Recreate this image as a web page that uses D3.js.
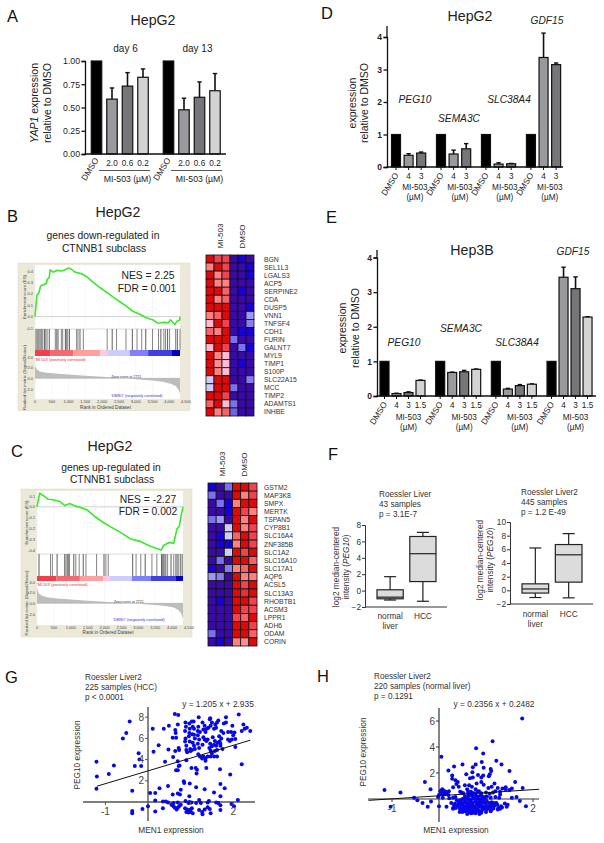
<!DOCTYPE html>
<html><head><meta charset="utf-8">
<script src="https://cdn.jsdelivr.net/npm/d3@7"></script>
<style>html,body{margin:0;padding:0;background:#fff}svg{display:block}text{font-family:"Liberation Sans",Arial,sans-serif;fill:#222}</style>
</head><body><svg id="c" width="604" height="843"></svg>
<script>
// ---------- data ----------
const barAGroups=["day 6","day 13"], barADose=["DMSO","2.0","0.6","0.2"];
const barAVals=[[1,.59,.73,.825],[1,.475,.61,.68]];
const barAErr=[[1,.71,.875,.915],[1,.6,.775,.865]];
const barYTicksA=[0,.25,.5,.75,1];
const genesD=["PEG10","SEMA3C","SLC38A4","GDF15"], doseD=["DMSO","4","3"];
const barDVals=[[1,.36,.43],[1,.4,.56],[1,.09,.1],[1,3.37,3.15]];
const barDErr=[[1,.41,.46],[1,.52,.72],[1,.13,.11],[1,4.12,3.2]];
const genesE=["PEG10","SEMA3C","SLC38A4","GDF15"], doseE=["DMSO","4","3","1.5"];
const barEVals=[[1,.07,.1,.45],[1,.68,.7,.77],[1,.2,.3,.34],[1,3.43,3.1,2.28]];
const barEErr=[[1,.08,.12,.46],[1,.69,.74,.78],[1,.22,.33,.35],[1,3.72,3.44,2.29]];

const esBRank=[0,30,60,110,170,250,330,370,420,455,545,645,795,895,990,1060,1190,1390,1540,1735,1935,2130,2330,2530,2730,2925,3125,3320,3520,3670,3820,3970,4040,4165,4235,4310,4320];
const esBVal=[0,.1,.19,.205,.27,.28,.29,.33,.34,.41,.39,.405,.4,.41,.425,.42,.39,.375,.35,.3,.255,.215,.17,.13,.09,.045,.02,-.01,-.03,-.06,-.05,-.055,-.03,-.07,-.04,-.03,0];
const hitsB=[30,70,110,150,190,230,280,320,360,425,605,645,685,785,825,905,935,975,1025,1240,1280,1340,1440,2150,2300,2430,2710,2900,3040,3180,3300,3500,3680,3750,3840,3890,3950,4010,4190,4240,4320];
const metricRankB=[0,50,150,300,600,1000,1500,2000,2400,2721,3000,3500,3800,4050,4200,4280,4320];
const metricValB=[2.4,1.7,1.3,1.1,.9,.7,.5,.3,.15,0,-.15,-.4,-.65,-1,-1.5,-2.2,-2.9];
const bandEdgesB=[0,450,1140,1950,2150,2830,3370,4060,4320];
const esCRank=[0,30,80,180,330,475,675,825,970,1120,1320,1490,1715,1965,2210,2460,2760,3055,3355,3680,3750,3850,3950,4050,4145,4215,4275,4325];
const esCVal=[0,.05,.125,.105,.07,.065,.05,.012,.03,.01,-.01,-.03,-.09,-.145,-.19,-.235,-.295,-.32,-.365,-.4,-.36,-.34,-.33,-.34,-.205,-.18,-.075,0];
const hitsC=[60,400,455,595,815,855,895,935,965,1090,1150,1250,1370,1450,1765,1985,2040,2110,2835,2935,3075,3205,3405,3550,3690,3720,3750,3790,3820,3870,3970,4050,4110,4150,4200,4250,4300];
const metricRankC=[0,50,150,300,600,1000,1500,2000,2400,2721,3000,3500,3800,4050,4200,4280,4325];
const metricValC=[2.9,1.9,1.4,1.15,.9,.7,.5,.3,.15,0,-.1,-.3,-.5,-.8,-1.3,-2,-2.9];
const bandEdgesC=[0,575,1270,1965,2165,2810,3375,4100,4325];
const bandColors=["#f0404f","#f56a70","#ffa0a0","#ffc8e0","#ccccff","#7f7fff","#4040e0","#0000c0"];
const rankTicks=[0,500,1000,1500,2000,2500,3000,3500,4000,4500];

const heatCols=["MI-503","DMSO"];
const genesB=["BGN","SEL1L3","LGALS3","ACP5","SERPINE2","CDA","DUSP5","VNN1","TNFSF4","CDH1","FURIN","GALNT7","MYL9","TIMP1","S100P","SLC22A15","MCC","TIMP2","ADAMTS1","INHBE"];
const heatB=[[1,.7,.7,-.9,-1,-.9],[.5,1,.7,-.9,-.9,-1],[1,.5,.7,-.9,-.9,-1],[1,.5,.5,-.9,-.9,-.9],[1,1,.6,-.9,-1,-.9],[1,.5,.6,-.9,-.9,-.9],[1,1,1,-.9,-.9,-1],[.5,.6,1,-.9,-.9,-.4],[.25,1,.7,-.9,-.9,-.5],[.6,.5,1,-.9,-1,-1],[1,1,1,-.55,-.9,-.9],[.25,1,.7,-.9,-.55,-1],[1,.5,.25,-.9,-.9,-.9],[1,.45,.25,-.9,-1,-.9],[1,.5,.25,-.9,-.9,-.9],[-.2,1,1,-.9,-.9,-.5],[-.2,1,1,-.55,-.9,-.9],[1,1,.7,-.9,-.9,-.9],[.6,1,.25,-.55,-.9,-.9],[1,.5,.6,-.6,-.9,-.9]];
const genesC=["GSTM2","MAP3K8","SMPX","MERTK","TSPAN5","CYP8B1","SLC16A4","ZNF385B","SLC1A2","SLC16A10","SLC17A1","AQP6","ACSL5","SLC13A3","RHOBTB1","ACSM3","LPPR1","ADH6","ODAM","CORIN"];
const heatC=[[-1,-.9,-.55,1,1,.7],[-.55,-.9,-.9,1,.5,.7],[-.9,-.55,-1,.5,1,1],[-.9,-.9,-1,1,.7,.5],[-.55,-.4,-.9,1,.5,1],[-.9,-.9,-.2,1,.5,.7],[-.9,-1,-.2,.6,1,.7],[-.9,-1,-1,.5,1,.7],[-.9,-.9,-.2,1,.7,1],[-.9,-.55,-.9,1,1,.6],[-1,-.9,-.5,.5,.6,1],[-.4,-.5,-.9,1,.5,.5],[-.9,-.9,-.9,1,.7,1],[-.9,-.9,-.9,1,.8,1],[-.9,-1,-.9,1,1,.7],[-.9,-.9,-.9,1,.7,.7],[-.9,-.9,-.9,.7,.6,1],[-.9,-.9,-.9,1,1,.7],[-.55,-.9,-.9,1,1,.6],[-.9,-1,-.9,.5,.45,1]];

const boxCats=["normal","HCC"];
const boxF1=[{lo:-1.15,q1:-1,med:-.8,q3:.1,hi:1.7},{lo:-1.3,q1:1.1,med:4.5,q3:6.6,hi:7.1}];
const boxF2=[{lo:-1.05,q1:-.4,med:.2,q3:.95,hi:6.2},{lo:-1.1,q1:1.2,med:5.2,q3:6.7,hi:8.3}];

const scatterGX=[-1.21,-1.2,-1.21,-.92,-.8,-.59,-.51,-.43,-.22,-.31,-.16,-.2,-.37,-.37,-.37,-.13,0,.63,.71,1.19,1.46,1.83,2.13,.11,.37,.49,.7,.64,.65,.58,.66,.25,.13,.48,.64,.72,.73,.4,.59,.7,.72,.74,.66,.7,.88,.89,.87,.88,.87,.9,.9,.92,.97,.98,.97,.96,.98,.99,1,.9,1.03,1.07,1.05,1.08,1.04,1.08,1.1,1.05,1.08,1.1,1.03,1.18,1.17,1.22,1.17,1.2,1.17,1.2,1.18,1.22,1.27,1.28,1.33,1.38,1.42,1.3,1.35,1.3,1.33,1.4,1.37,1.28,1.44,1.45,1.5,1.47,1.52,1.46,1.5,1.4,1.35,1.47,1.3,1.47,1.35,1.58,1.62,1.65,1.6,1.55,1.57,1.63,1.6,1.55,1.5,1.57,1.62,1.62,1.55,1.72,1.77,1.72,1.67,1.68,1.7,1.75,1.7,1.78,1.83,1.88,1.95,1.98,1.88,1.92,1.97,2,2.05,2.05,2.03,2.24,2.27,2.32,2.4,2.2,2.2,1.02,1.12,1.14,1.15,1.37,1.69,1.93,.84,.85,.98,1.13,1.33,1.7,1.8,1.55,.77,.7,.75,.05,.17,.27,.47,.58,.97,1.7,.17,.35,.42,.47,.6,.7,.88,.95,.97,1.02,1.13,1.2,1.24,1.43,1.4,1.6,1.65,1.96,2.11,.55,.6,.63,.67,.7,.73,.77,.35,.17,.87,.92,.97,.95,1,1.03,1.05,.9,1,1.2,1.27,1.28,1.33,1.4,1.45,1.47,1.7,1.7,2.02];
const scatterGY=[3.8,2.4,1.25,2.65,3.45,6,6.5,7.6,4.6,3.4,3.4,4,1.05,-.85,-1.05,-.65,-.4,8.3,8.2,8,7.9,8,8.25,6.9,6.9,7.2,7.3,6.8,6.5,6.05,6.05,5.35,4.75,4.95,4.8,5.1,4.9,3.8,4.25,3.85,3.4,3.45,3,3,7.5,7.1,6.7,6,5.7,5.3,4.9,4.7,7.4,6.9,6.5,6.2,5.7,5,4.8,3.95,7.6,7.6,7.1,6.9,6.4,6.35,6,5.6,5.3,5,4.9,7.1,6.7,6.6,6.3,5.9,5.5,5.1,4.5,4.3,4.1,7.5,7.2,6.9,7,6.85,6.6,6.1,5.9,5.9,5.75,5.4,5.1,7.8,7.5,7.2,6.1,5.5,5.25,4.3,4.1,4.85,4.3,4.3,3.9,7.3,7.5,7.7,7,6.9,5.75,5.6,5.3,5.4,4.6,4.8,4.9,4.3,4.3,6.7,6.5,6,6.2,5.7,5.3,5,5.5,7.4,7.5,6.6,6.6,7.2,5.9,5.75,5.9,6.3,5.95,5.2,6.55,7.3,6.9,7,6.7,6.7,3.55,3.2,3.2,2.7,3.05,3.2,3.1,2.6,1.95,1.8,1.75,1.4,1.2,1.7,1.3,.9,1.15,.8,.7,.85,.85,1.3,1.5,.7,.55,.55,.15,.05,.05,-.05,-.1,-.05,.1,-.1,0,-.05,-.1,.2,-.1,.1,-.05,-.05,-.1,-.2,.2,-.25,-.4,-.55,-.7,-.55,-.4,-.25,-.6,-.9,-.6,-.7,-.85,-1,-.95,-.6,-1.05,-.95,-.7,-.75,-.95,-1.15,-.7,-.5,-.65,-1.05,-.75,-.3,-.4];
const fitG={slope:1.205,intercept:2.935,from:-1.2,to:2.4};

const scatterHX=[1.77,1.14,.79,.94,.05,.91,1.22,1.33,.5,.32,.78,.72,.95,.2,1.5,1.1,1.11,.71,.58,.28,.28,.83,.94,.9,.72,.66,1.08,1.06,-.3,.35,.4,.37,-1.16,-.82,-.18,-.53,-.46,-.35,-1.03,-.24,-.17,-.02,0,0,.16,.03,.07,.05,.12,.16,.21,.3,.42,.45,.55,.6,.7,.78,.85,.95,1.05,1.12,1.18,1.25,1.3,1.35,1.42,1.55,1.62,1.78,.08,.22,.3,.35,.48,.52,.62,.68,.75,.82,.9,1,1.08,1.15,1.2,1.3,.55,.62,.68,.72,.78,.82,.88,.92,.98,1.02,1.1,1.2,1.28,.38,.45,.5,.55,.6,.65,.7,.75,.8,.85,.9,.95,1,.42,.47,.52,.57,.62,.67,.72,.77,.82,.87,.92,.97,1.02,1.07,1.12,1.17,1.22,.32,.4,.48,.54,.6,.66,.7,.74,.8,.84,.88,.93,1,1.06,1.12,1.18,1.24,1.32,1.4,1.46,.3,.36,.44,.5,.56,.62,.64,.7,.76,.8,.86,.92,.98,1.04,1.1,1.16,1.26,1.34,1.44,.3,.45,.52,.58,.64,.7,.76,.82,.86,.92,1,1.1,1.15,1.25,1.3,.44,.55,.62,.68,.72,.78,.85,.9,1,1.1,.5,.7,.78,.86,.68,.6,.34,.26,.14,.1,.06,.12,.2,1.65,1.55,1.72,1.85,1.42,1.5,.62,.72,.64,.8,.9];
const scatterHY=[6.2,4.45,3.9,3.5,3.25,2.85,2.95,2.65,2.65,2.5,2.65,2.45,2.4,2.2,2.15,2.3,2.15,2.05,1.9,1.8,1.55,1.85,1.8,1.65,1.65,1.6,1.9,1.75,1.3,1.45,1.3,1.15,.7,.5,.75,.1,-.1,-.3,-.6,-.6,-.2,.15,.3,-.55,-.6,.6,.75,.65,.4,.5,.6,.9,.95,.55,1.05,.75,.95,.75,.6,1.1,.85,.95,1.2,.85,.55,.8,.75,.8,1.3,.85,.1,.05,.1,.15,.5,.45,.4,.55,.45,.55,.45,.5,.4,.5,.6,.35,.2,.2,.3,.25,.3,.2,.25,.2,.15,.2,.1,.15,.1,-.1,-.1,0,-.05,0,-.05,0,.05,-.05,0,-.05,0,-.1,-.3,-.25,-.3,-.25,-.3,-.2,-.3,-.2,-.3,-.2,-.3,-.25,-.2,-.3,-.25,-.3,-.3,-.5,-.5,-.45,-.55,-.45,-.5,-.4,-.55,-.45,-.5,-.4,-.55,-.45,-.55,-.45,-.5,-.45,-.55,-.35,-.45,-.7,-.7,-.65,-.7,-.65,-.75,-.6,-.7,-.65,-.75,-.6,-.7,-.65,-.75,-.6,-.7,-.7,-.65,-.6,-.75,-.8,-.85,-.8,-.9,-.85,-.9,-.8,-.95,-.85,-.8,-.85,-.75,-.8,-.75,-1,-.95,-1,-.95,-1.05,-1,-.95,-1.05,-1,-.95,-1,-1.05,-1.1,-1.15,-1.1,-1.15,-.35,-.3,.55,.65,.45,.4,.3,.15,.1,-.15,-.55,.9,.7,.55,.45,1.05,1.2,1.3,1.5,1.15];
const fitH={slope:.2356,intercept:.2482,from:-1.5,to:2.13};

// ---------- helpers ----------
const svg=d3.select("#c");
function T(x,y,s,o={}){const t=svg.append("text").attr("x",x).attr("y",y).attr("font-size",o.size||9).attr("text-anchor",o.anchor||"start").text(s);
 if(o.italic)t.attr("font-style","italic"); if(o.bold)t.attr("font-weight","bold"); if(o.fill)t.style("fill",o.fill);
 if(o.rot!=null)t.attr("transform",`rotate(${o.rot},${x},${y})`);return t;}
function styleAxis(g,w,col){g.selectAll("path,line").attr("stroke",col||"#111").attr("stroke-width",w||1.3);g.select(".domain").attr("fill","none");g.selectAll("text").style("font-family",'"Liberation Sans",Arial,sans-serif');}
const greys=["#000","#999a9e","#75757a","#d3d3d3"];

function bars(p){
 const n=p.vals[0].length;
 const x=d3.scaleLinear().domain([0,1]).range([p.x0,p.x0+p.step]);
 const y=d3.scaleLinear().domain([0,p.yMax]).range([p.y0,p.y1]);
 const slot=(g,j)=>g*(n+p.gap)+j;
 p.vals.forEach((vs,g)=>vs.forEach((v,j)=>{
  const cx=x(slot(g,j));
  if(p.errs[g][j]>v+.005){
   svg.append("line").attr("x1",cx).attr("x2",cx).attr("y1",y(v)).attr("y2",y(p.errs[g][j])).attr("stroke","#111").attr("stroke-width",1.6);
   svg.append("line").attr("x1",cx-2.2).attr("x2",cx+2.2).attr("y1",y(p.errs[g][j])).attr("y2",y(p.errs[g][j])).attr("stroke","#111").attr("stroke-width",1.4);
  }
  svg.append("rect").attr("x",cx-p.bw/2).attr("width",p.bw).attr("y",y(v)).attr("height",y(0)-y(v)).attr("fill",greys[j]).attr("stroke","#111").attr("stroke-width",1.2);
 }));
 const ya=svg.append("g").attr("transform",`translate(${p.axisX},0)`).call(d3.axisLeft(y).tickValues(p.yTicks).tickFormat(p.fmt).tickSize(3.5).tickPadding(1.5));
 styleAxis(ya); ya.selectAll("text").attr("font-size",p.tickSize).attr("font-weight",p.tickBold?"bold":"normal").style("fill","#222");
 if(p.axisTop!=null) svg.append("line").attr("x1",p.axisX).attr("x2",p.axisX).attr("y1",y(p.yTicks[p.yTicks.length-1])).attr("y2",p.axisTop).attr("stroke","#111").attr("stroke-width",1.3);
 svg.append("line").attr("x1",p.axisX-.5).attr("x2",p.axisEnd).attr("y1",p.y0).attr("y2",p.y0).attr("stroke","#111").attr("stroke-width",1.3);
 if(p.xTicks) p.vals.forEach((vs,g)=>vs.forEach((v,j)=>{svg.append("line").attr("x1",x(slot(g,j))).attr("x2",x(slot(g,j))).attr("y1",p.y0).attr("y2",p.y0+3).attr("stroke","#111").attr("stroke-width",1);}));
 p.vals.forEach((vs,g)=>{
  const cx0=x(slot(g,0));
  T(cx0+p.dmsoDx,p.y0+p.dmsoDy,p.dose[0],{size:8.4,anchor:"end",rot:-58});
  p.dose.slice(1).forEach((d,j)=>T(x(slot(g,j+1)),p.numY,d,{size:8.2,anchor:"middle"}));
  p.sub(g,x(slot(g,1)),x(slot(g,n-1)));
 });
 return {x,y,slot};
}

function gsea(p){
 svg.append("rect").attr("x",p.bx).attr("y",p.by).attr("width",p.bw).attr("height",p.bh).attr("fill","#ece9d8").attr("stroke","#dcd8c4").attr("stroke-width",.5);
 svg.append("rect").attr("x",p.x0).attr("y",p.top).attr("width",p.x1-p.x0).attr("height",p.bot-p.top).attr("fill","#fff");
 const x=d3.scaleLinear().domain([0,p.rankEnd]).range([p.x0,p.x1]);
 const yE=d3.scaleLinear().domain(p.esDomain).range(p.esRange);
 const yM=d3.scaleLinear().domain([4,-2]).range(p.mRange);
 p.rankTicks.filter(r=>r<=p.rankEnd).forEach(r=>{svg.append("line").attr("x1",x(r)).attr("x2",x(r)).attr("y1",p.top).attr("y2",p.hitTop).attr("stroke","#f0f0f0").attr("stroke-width",.5);
   svg.append("line").attr("x1",x(r)).attr("x2",x(r)).attr("y1",p.bandBot).attr("y2",p.bot).attr("stroke","#f0f0f0").attr("stroke-width",.5);});
 svg.append("line").attr("x1",p.x0).attr("x2",p.x1).attr("y1",yE(0)).attr("y2",yE(0)).attr("stroke","#bbb").attr("stroke-width",.7);
 svg.append("path").attr("d",d3.line().x(d=>x(d[0])).y(d=>yE(d[1]))(p.esRank.map((r,i)=>[r,p.esVal[i]]))).attr("fill","none").attr("stroke","#38ea2a").attr("stroke-width",1.6);
 svg.append("line").attr("x1",p.x0).attr("x2",p.x1).attr("y1",p.hitTop).attr("y2",p.hitTop).attr("stroke","#bbb").attr("stroke-width",.5);
 p.hits.forEach((h,i)=>svg.append("line").attr("x1",x(h)).attr("x2",x(h)).attr("y1",p.hitTop).attr("y2",p.bandTop).attr("stroke",i%3==0?"#333":"#666").attr("stroke-width",.8));
 p.bandColors.forEach((c,i)=>svg.append("rect").attr("x",x(p.bandEdges[i])).attr("width",x(p.bandEdges[i+1])-x(p.bandEdges[i])).attr("y",p.bandTop).attr("height",p.bandBot-p.bandTop).attr("fill",c));
 svg.append("path").attr("d",d3.area().x(d=>x(d[0])).y0(yM(0)).y1(d=>yM(d[1]))(p.mRank.map((r,i)=>[r,p.mVal[i]]))).attr("fill","#bdbdbd");
 svg.append("line").attr("x1",p.x0).attr("x2",p.x1).attr("y1",yM(0)).attr("y2",yM(0)).attr("stroke","#999").attr("stroke-width",.4);
 const t=4;
 p.esTicks.forEach(v=>T(p.x0-2,yE(v)+1.5,v.toFixed(1),{size:t,anchor:"end",fill:"#444"}));
 [4,2,0,-2].forEach(v=>T(p.x0-2,yM(v)+1.5,v.toFixed(1),{size:t,anchor:"end",fill:"#444"}));
 p.rankTicks.forEach(r=>T(x(r),p.tickY,d3.format(",")(r),{size:t,anchor:"middle",fill:"#444"}));
 T((p.x0+p.x1)/2-2,p.titleY,"Rank in Ordered Dataset",{size:4.6,anchor:"middle",fill:"#444"});
 T(p.x0-9,(p.top+p.hitTop)/2,"Enrichment score (ES)",{size:4.4,anchor:"middle",rot:-90,fill:"#444"});
 T(p.x0-9,(p.bandBot+p.bot)/2,"Ranked list metric (Signal2Noise)",{size:4.4,anchor:"middle",rot:-90,fill:"#444"});
 T(p.x0,p.bandBot+4.5,"'MI-503' (positively correlated)",{size:3.8,fill:"#e03040"});
 T(x(2721),yM(0)-.5,"Zero cross at 2721",{size:3.6,anchor:"middle",fill:"#333"});
 T(p.negX,p.negY,"'DMSO' (negatively correlated)",{size:3.8,fill:"#3030e0"});
}

function heat(p){
 const col=d3.scaleLinear().domain([-1,-.9,-.55,-.2,.2,.5,.7,1]).range(["#1800d8","#3a0aa8","#7a70f0","#cfcdfa","#ffc8e0","#ff8080","#f0424f","#dc0a0a"]);
 const x=d3.scaleBand().domain(d3.range(6)).range([p.x0,p.x1]);
 const y=d3.scaleBand().domain(p.genes).range([p.y0,p.y1]);
 p.genes.forEach((g,r)=>{
  p.m[r].forEach((v,c)=>svg.append("rect").attr("x",x(c)).attr("y",y(g)).attr("width",x.bandwidth()).attr("height",y.bandwidth()).attr("fill",col(v)).attr("stroke","#111").attr("stroke-width",.8));
  T(p.labX,y(g)+y.bandwidth()/2+2.5,g,{size:6.8,fill:"#333"});
 });
 T(p.x0+17,p.y0-6.5,heatCols[0],{size:8,rot:-90});
 T(p.x0+39,p.y0-6.5,heatCols[1],{size:8,rot:-90});
}

function boxes(p){
 const x=d3.scaleBand().domain(boxCats).range([p.x0,p.x1]).paddingInner(p.pad);
 const y=d3.scaleLinear().domain(p.dom).range([p.y0,p.y1]);
 p.data.forEach((d,i)=>{
  const c=x(boxCats[i]),b=x.bandwidth(),m=c+b/2;
  const L=(a,b2,e,f)=>svg.append("line").attr("x1",a).attr("x2",b2).attr("y1",e).attr("y2",f).attr("stroke","#222").attr("stroke-width",1.2);
  L(m,m,y(d.lo),y(d.hi));L(m-6,m+6,y(d.lo),y(d.lo));L(m-6,m+6,y(d.hi),y(d.hi));
  svg.append("rect").attr("x",c).attr("width",b).attr("y",y(d.q3)).attr("height",y(d.q1)-y(d.q3)).attr("fill","#dcdcdc").attr("stroke","#222").attr("stroke-width",1.2);
  L(c,c+b,y(d.med),y(d.med));
 });
 const a=svg.append("g").attr("transform",`translate(${p.ax},0)`).call(d3.axisLeft(y).tickValues(p.ticks).tickSize(3).tickPadding(1).tickFormat(d3.format("d")));
 styleAxis(a,1,"#333");a.selectAll("text").attr("font-size",8.3).style("fill","#333");
 svg.append("line").attr("x1",p.ax).attr("x2",p.axEnd).attr("y1",p.y0).attr("y2",p.y0).attr("stroke","#333").attr("stroke-width",1);
 boxCats.forEach((c,i)=>{const m=x(c)+x.bandwidth()/2;T(m,p.labY,c,{size:8.3,anchor:"middle",fill:"#333"});if(i==0)T(m,p.labY+9.5,"liver",{size:8.3,anchor:"middle",fill:"#333"});});
}

function scatter(p){
 const x=d3.scaleLinear().domain([0,1]).range([p.ox,p.ox+p.ux]);
 const y=d3.scaleLinear().domain([0,1]).range([p.oy,p.oy-p.uy]);
 svg.append("line").attr("x1",p.x0).attr("x2",p.x1).attr("y1",y(0)).attr("y2",y(0)).attr("stroke",p.axisCol).attr("stroke-width",p.axisW);
 svg.append("line").attr("x1",x(0)).attr("x2",x(0)).attr("y1",p.y0).attr("y2",p.y1).attr("stroke",p.axisCol).attr("stroke-width",p.axisW);
 p.xs.forEach((v,i)=>svg.append("circle").attr("cx",x(v)).attr("cy",y(p.ys[i])).attr("r",2).attr("fill","#0808e6"));
 const f=p.fit,v1=f.from,v2=f.to;
 svg.append("line").attr("x1",x(v1)).attr("y1",y(f.slope*v1+f.intercept)).attr("x2",x(v2)).attr("y2",y(f.slope*v2+f.intercept)).attr("stroke","#111").attr("stroke-width",1);
 p.yTicks.forEach(v=>{svg.append("line").attr("x1",x(0)-3).attr("x2",x(0)).attr("y1",y(v)).attr("y2",y(v)).attr("stroke",p.axisCol).attr("stroke-width",1);T(x(0)-4,y(v)+3.6,v,{size:10,anchor:"end",fill:"#444"});});
 p.xTicks.forEach(v=>{svg.append("line").attr("x1",x(v)).attr("x2",x(v)).attr("y1",y(0)).attr("y2",y(0)+3).attr("stroke",p.axisCol).attr("stroke-width",1);});
 p.xLabels.forEach(v=>T(x(v),p.xLabY,v,{size:10,anchor:"middle",fill:"#444"}));
}

// ---------- panel letters ----------
[["A",7,21.5],["B",7,222],["C",11,457],["D",321,19],["E",326,223],["F",328,460],["G",5,683],["H",317,682]].forEach(d=>T(d[1],d[2],d[0],{size:16.5,fill:"#111"}));

// ---------- A ----------
T(153,25,"HepG2",{size:14.2,anchor:"middle"});
bars({vals:barAVals,errs:barAErr,dose:barADose,x0:96.5,step:15.5,gap:.645,bw:10.5,y0:154,y1:61,yMax:1,yTicks:barYTicksA,fmt:d3.format(".2f"),tickSize:8.7,
 axisX:85,axisEnd:226,numY:166,dmsoDx:2.5,dmsoDy:6,
 sub:(g,a,b)=>{svg.append("line").attr("x1",a-13).attr("x2",b+7).attr("y1",170.5).attr("y2",170.5).attr("stroke","#555").attr("stroke-width",1);
  T((a+b)/2,182,"MI-503 (µM)",{size:8.7,anchor:"middle"});T((a+b)/2-2,52,barAGroups[g],{size:10,anchor:"middle"});}});
(function(){const t=T(38,103,"",{size:10.5,anchor:"middle",rot:-90});t.append("tspan").attr("font-style","italic").text("YAP1");t.append("tspan").text(" expression");})();
T(51,103,"relative to DMSO",{size:10.5,anchor:"middle",rot:-90});

// ---------- D ----------
T(470,21,"HepG2",{size:14.2,anchor:"middle"});
bars({vals:barDVals,errs:barDErr,dose:doseD,x0:396,step:12.6,gap:.57,bw:9,y0:167,y1:37,yMax:4,yTicks:[0,1,2,3,4],fmt:d3.format("d"),tickSize:8.5,tickBold:true,
 axisX:387,axisEnd:563,axisTop:26,numY:179,dmsoDx:3,dmsoDy:8,xTicks:true,
 sub:(g,a,b)=>{T((a+b)/2,190,"MI-503",{size:8.2,anchor:"middle"});T((a+b)/2,200,"(µM)",{size:8.2,anchor:"middle"});}});
[[415,103],[459,122],[509,103],[547,24]].forEach((d,i)=>T(d[0],d[1],genesD[i],{size:10.2,italic:true,anchor:"middle"}));
T(356,103,"expression",{size:10.5,anchor:"middle",rot:-90});T(368,103,"relative to DMSO",{size:10.5,anchor:"middle",rot:-90});

// ---------- E ----------
T(472,255,"Hep3B",{size:14.2,anchor:"middle"});
bars({vals:barEVals,errs:barEErr,dose:doseE,x0:384.5,step:12,gap:.64,bw:9,y0:396,y1:257.5,yMax:4,yTicks:[0,1,2,3,4],fmt:d3.format("d"),tickSize:8.5,tickBold:true,
 axisX:377,axisEnd:596,axisTop:250,numY:408,dmsoDx:3,dmsoDy:8,xTicks:true,
 sub:(g,a,b)=>{T((a+b)/2,420,"MI-503",{size:8.2,anchor:"middle"});T((a+b)/2,430,"(µM)",{size:8.2,anchor:"middle"});}});
[[404,346],[461,332],[517,346],[573,255]].forEach((d,i)=>T(d[0],d[1],genesE[i],{size:10.2,italic:true,anchor:"middle"}));
T(346,328,"expression",{size:10.5,anchor:"middle",rot:-90});T(359,328,"relative to DMSO",{size:10.5,anchor:"middle",rot:-90});

// ---------- B ----------
T(118,217,"HepG2",{size:14.2,anchor:"middle"});
T(103,239,"genes down-regulated in",{size:10.3,anchor:"middle"});T(104,252,"CTNNB1 subclass",{size:10.3,anchor:"middle"});
gsea({bx:18,by:263,bw:172,bh:147.5,x0:35,x1:180,top:265,bot:399,hitTop:329,bandTop:350,bandBot:356,rankEnd:4320,esRank:esBRank,esVal:esBVal,esDomain:[.4,-.1],esRange:[271,328],esTicks:[.4,.3,.2,.1,0,-.1],
 mRange:[357,389],mRank:metricRankB,mVal:metricValB,hits:hitsB,bandEdges:bandEdgesB,bandColors,rankTicks,tickY:403,titleY:408.5,negX:111,negY:397});
T(148,279,"NES = 2.25",{size:10.3,anchor:"middle"});T(147,292,"FDR = 0.001",{size:10.3,anchor:"middle"});
heat({genes:genesB,m:heatB,x0:206,x1:254,y0:255,y1:416,labX:264});

// ---------- C ----------
T(110,451,"HepG2",{size:14.2,anchor:"middle"});
T(111,471,"genes up-regulated in",{size:10.3,anchor:"middle"});T(112,483,"CTNNB1 subclass",{size:10.3,anchor:"middle"});
gsea({bx:21,by:489,bw:171,bh:148,x0:37,x1:183,top:491,bot:625,hitTop:554,bandTop:576,bandBot:581,rankEnd:4325,esRank:esCRank,esVal:esCVal,esDomain:[.1,-.4],esRange:[496,550],esTicks:[.1,0,-.1,-.2,-.3,-.4],
 mRange:[582,614],mRank:metricRankC,mVal:metricValC,hits:hitsC,bandEdges:bandEdgesC,bandColors,rankTicks,tickY:628.5,titleY:634,negX:113,negY:621});
T(148,503,"NES = -2.27",{size:10.3,anchor:"middle"});T(148,515,"FDR = 0.002",{size:10.3,anchor:"middle"});
heat({genes:genesC,m:heatC,x0:208,x1:257,y0:483,y1:646,labX:264});

// ---------- F ----------
["Roessler Liver","43 samples","p = 3.1E-7"].forEach((s,i)=>T(379,497+i*10,s,{size:8.2,fill:"#333"}));
["Roessler Liver2","445 samples","p = 1.2 E-49"].forEach((s,i)=>T(521,495+i*10,s,{size:8.2,fill:"#333"}));
boxes({data:boxF1,x0:377,x1:436,pad:.2,y0:607,y1:525,dom:[-2,8],ticks:[-2,0,2,4,6,8],ax:365,axEnd:447,labY:619});
boxes({data:boxF2,x0:522,x1:582,pad:.2,y0:604,y1:522,dom:[-2,10],ticks:[-2,0,2,4,6,8,10],ax:510,axEnd:593,labY:617});
[[339,567],[483,560]].forEach(d=>{T(d[0],d[1],"log2 median-centered",{size:8.3,anchor:"middle",rot:-90,fill:"#333"});
 const t=T(d[0]+10,d[1],"intensity (",{size:8.3,anchor:"middle",rot:-90,fill:"#333"});t.append("tspan").attr("font-style","italic").text("PEG10");t.append("tspan").text(")");});

// ---------- G ----------
["Roessler Liver2","225 samples (HCC)","p < 0.0001"].forEach((s,i)=>T(85,680+i*10,s,{size:8.2,fill:"#333"}));
T(218,707,"y = 1.205 x + 2.935",{size:8.4,anchor:"middle",fill:"#333"});
scatter({xs:scatterGX,ys:scatterGY,ox:148,ux:42.6,oy:802,uy:10.6,x0:83,x1:255,y0:707,y1:821,fit:fitG,axisCol:"#555",axisW:1.4,yTicks:[2,4,6,8],xTicks:[-1,1,2],xLabels:[-1,2],xLabY:815});
T(171,833,"MEN1 expression",{size:8.3,anchor:"middle",fill:"#333"});T(80,755,"PEG10 expression",{size:8.3,anchor:"middle",rot:-90,fill:"#333"});

// ---------- H ----------
["Roessler Liver2","220 samples (normal liver)","p = 0.1291"].forEach((s,i)=>T(374,679+i*10,s,{size:8.2,fill:"#333"}));
T(494,707,"y = 0.2356 x + 0.2482",{size:8.4,anchor:"middle",fill:"#333"});
scatter({xs:scatterHX,ys:scatterHY,ox:439,ux:47,oy:799,uy:13,x0:368,x1:539,y0:708,y1:822,fit:fitH,axisCol:"#333",axisW:1.2,yTicks:[2,4,6],xTicks:[-1,1,2],xLabels:[-1,2],xLabY:812});
T(456,833,"MEN1 expression",{size:8.3,anchor:"middle",fill:"#333"});T(366,752,"PEG10 expression",{size:8.3,anchor:"middle",rot:-90,fill:"#333"});
</script></body></html>
